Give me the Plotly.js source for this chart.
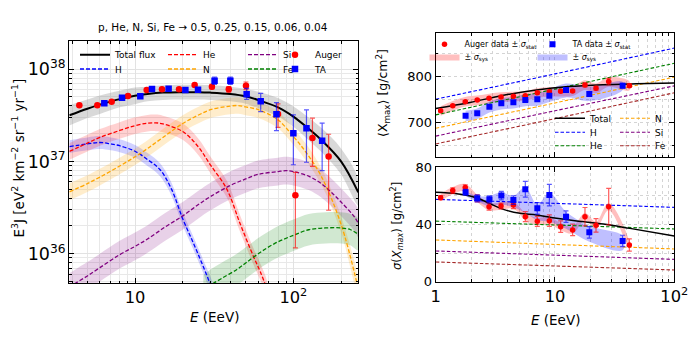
<!DOCTYPE html>
<html>
<head>
<meta charset="utf-8">
<script src="https://cdn.plot.ly/plotly-3.0.1.min.js"></script>
<style>html,body{margin:0;padding:0;background:#fff}#chart{width:693px;height:342px}</style>
</head>
<body>
<div id="chart"></div>
<script>
// ---- left panel: E^3 J, values in units of 1e36 eV^2 km^-2 sr^-1 yr^-1 ----
var totE  = [3.85, 5, 6, 8, 10, 12, 15, 20, 25, 30, 40, 50, 60, 80, 100, 120, 150, 200, 257];
var totF  = [31.6, 37.2, 41.2, 47.3, 51.3, 53.7, 55.6, 56.2, 56.2, 55.6, 53.7, 50.7, 46.2, 38.5, 30.6, 23.9, 17.1, 10.0, 4.62];
var totHi = [40.7, 46.8, 51.9, 58.2, 63.1, 64.5, 66.8, 67.6, 67.6, 66.8, 64.5, 60.9, 56.8, 48.5, 39.4, 31.5, 23.1, 13.8, 6.38];
var totLo = [24.5, 29.5, 32.7, 38.5, 41.7, 44.7, 46.3, 46.8, 46.8, 46.3, 44.7, 42.2, 37.6, 30.6, 23.7, 18.1, 12.7, 7.24, 3.34];

var hE  = [3.85, 5, 6, 7, 8, 10, 12, 14.4, 17, 20, 23.3, 27, 31];
var hF  = [14.45, 15.49, 16.03, 15.49, 14.79, 12.88, 10.47, 8.13, 5.01, 2.40, 1.32, 0.724, 0.398];
var hHi = [17.0, 18.2, 18.8, 18.2, 17.4, 15.1, 12.3, 9.55, 5.89, 2.82, 1.55, 0.851, 0.468];
var hLo = [12.3, 13.2, 13.6, 13.2, 12.6, 11.0, 8.91, 6.92, 4.26, 2.04, 1.12, 0.616, 0.339];

var heE  = [3.85, 5, 6, 8, 10, 12, 13.5, 15, 20, 25, 30, 38, 46, 56, 62, 68];
var heF  = [12.82, 15.78, 18.20, 21.63, 24.43, 25.94, 26.18, 25.47, 21.09, 14.52, 9.12, 5.01, 2.14, 0.933, 0.631, 0.417];
var heHi = [15.77, 19.41, 22.39, 26.60, 30.05, 31.91, 32.20, 31.33, 25.94, 17.86, 11.22, 6.16, 2.63, 1.15, 0.776, 0.513];
var heLo = [10.42, 12.83, 14.80, 17.59, 19.86, 21.09, 21.28, 20.71, 17.15, 11.80, 7.41, 4.07, 1.74, 0.759, 0.513, 0.339];

var nE  = [3.85, 5, 6, 8, 10, 12, 15, 20, 25, 30, 40, 45, 50, 60, 80, 100, 120, 150, 200, 257];
var nF  = [4.68, 5.75, 6.76, 8.91, 11.22, 13.80, 18.20, 25.70, 31.62, 36.31, 39.81, 40.27, 38.90, 36.31, 28.18, 18.62, 12.59, 6.92, 2.09, 0.417];
var nHi = [5.76, 7.07, 8.31, 10.96, 13.80, 16.97, 22.39, 31.61, 38.89, 44.66, 48.97, 49.53, 47.85, 44.66, 34.66, 22.90, 15.49, 8.51, 2.57, 0.513];
var nLo = [3.80, 4.67, 5.50, 7.24, 9.12, 11.22, 14.80, 20.89, 25.71, 29.52, 32.37, 32.74, 31.63, 29.52, 22.91, 15.14, 10.24, 5.63, 1.70, 0.339];

var siE  = [3.85, 4.2, 5, 6, 8, 10, 12, 15.5, 20, 25, 30, 40, 50, 60, 80, 90, 100, 125, 150, 175, 200, 243, 257];
var siF  = [0.437, 0.479, 0.575, 0.708, 0.977, 1.202, 1.445, 1.950, 2.570, 3.388, 4.169, 5.495, 6.457, 7.244, 7.762, 7.943, 7.762, 6.918, 5.754, 4.571, 3.631, 2.512, 2.138];
var siHi = [0.617, 0.677, 0.812, 1.000, 1.380, 1.698, 2.042, 2.755, 3.631, 4.787, 5.891, 7.764, 9.124, 10.24, 10.97, 11.22, 10.97, 9.775, 8.130, 6.459, 5.131, 3.549, 3.021];
var siLo = [0.309, 0.339, 0.407, 0.501, 0.692, 0.851, 1.023, 1.381, 1.820, 2.399, 2.952, 3.890, 4.572, 5.129, 5.495, 5.624, 5.495, 4.898, 4.074, 3.236, 2.571, 1.778, 1.514];

var feE  = [27, 30, 35, 44, 50, 60, 76, 100, 125, 160, 200, 230, 257];
var feF  = [0.398, 0.457, 0.537, 0.676, 0.794, 1.000, 1.288, 1.585, 1.820, 1.905, 1.905, 1.820, 1.622];
var feHi = [0.589, 0.676, 0.794, 1.000, 1.174, 1.479, 1.905, 2.344, 2.692, 2.817, 2.817, 2.692, 2.399];
var feLo = [0.269, 0.309, 0.363, 0.457, 0.537, 0.676, 0.871, 1.071, 1.230, 1.288, 1.288, 1.230, 1.096];

var augE   = [4.45, 5.78, 7.12, 9.03, 11.85, 14.8, 18.97, 23.8, 30.6, 39.1, 50.2, 80, 103, 132, 167];
var augF   = [40.5, 40.5, 44.4, 51.2, 59.3, 60.3, 60.3, 67.2, 64.5, 60.3, 66.0, 32.7, 4.3, 17.9, 11.3];
var augUp  = [1, 1, 1, 1, 1, 1, 1.5, 2, 4, 4.5, 6.5, 9.2, 3.3, 11.5, 8.4];
var augDn  = [1, 1, 1, 1, 1, 1, 1.5, 2, 3.5, 4, 6, 9.3, 3.14, 9.07, 8.34];

var taE   = [6.4, 8.28, 10.8, 12.8, 16.3, 20.8, 25, 31.8, 40, 50.7, 62.2, 78.2, 100, 121, 152];
var taF   = [42.6, 48.9, 50.7, 60.8, 61.3, 59.3, 59.8, 74.8, 74.8, 53.3, 44.7, 32.5, 20.2, 22.9, 16.7];
var taUp  = [1, 1, 1, 1, 1, 1.5, 2, 7, 7, 8.4, 9.9, 10.9, 11.7, 13.2, 9.3];
var taDn  = [1, 1, 1, 1, 1, 1.5, 2, 6.5, 6.5, 6.2, 10, 10.9, 11, 13.1, 8.76];

// ---- right panels: <Xmax> and sigma(Xmax) ----
var modE = [1, 10, 100];
var xmH  = [751, 806, 862];
var xmHe = [717, 773, 829];
var xmN  = [688, 743, 799];
var xmSi = [671, 726, 780];
var xmFe = [654, 709, 765];
var xmTotE = [1, 1.94, 3.6, 7, 13, 25, 48, 100];
var xmTot  = [731, 744, 759, 771, 778.5, 782.5, 784.5, 786];

var sgH  = [57.6, 54.8, 52.0];
var sgHe = [42.4, 39.65, 36.9];
var sgN  = [29.2, 26.05, 22.9];
var sgSi = [21.5, 18.55, 15.6];
var sgFe = [13.8, 11.0, 8.2];
var sgTotE = [1, 1.5, 1.94, 2.4, 2.82, 3.69, 5.09, 7.02, 10.3, 15.2, 25.4, 42.5, 100];
var sgTot  = [62.5, 61.5, 59.9, 57.5, 54.8, 50.6, 47.8, 46.6, 44.3, 42.4, 40.3, 37.3, 32.0];

var augXE    = [1.10, 1.39, 1.77, 2.23, 2.80, 3.53, 4.48, 5.64, 7.11, 8.97, 11.16, 14.06, 17.84, 22.07, 28.2, 42];
var augXm    = [726, 737, 745.7, 749.3, 753, 755.9, 757.3, 758.8, 765.3, 767.5, 768.2, 768.9, 782, 774.7, 789.2, 780.5];
var augXmErr = [2, 2, 2, 2, 2, 2, 2, 2, 2.5, 2.5, 3, 3, 4, 4, 7, 4];
var augXmHi  = [736, 747, 756, 759, 763, 766, 767, 769, 775, 777, 778, 779, 792, 785, 799, 790];
var augXmLo  = [715, 726, 735, 738, 742, 745, 746, 748, 754, 757, 757, 758, 771, 764, 778, 770];
var augSg    = [58.8, 63.7, 65.8, 58.3, 52.5, 52.9, 53.6, 45.5, 42.2, 42.7, 38.5, 36.2, 45.5, 39.4, 52.5, 25.7];
var augSgErr = [1.5, 2, 2, 2.5, 2.5, 2, 2.5, 3.5, 3.5, 4, 4, 4, 6.4, 4.7, 12.8, 4.3];
var augSgHi  = [61.3, 66.2, 68.3, 60.8, 55, 55.4, 56.1, 48, 44.7, 45.2, 41, 38.7, 48, 41.9, 55, 28.2];
var augSgLo  = [56.3, 61.2, 63.3, 55.8, 50, 50.4, 51.1, 43, 39.7, 40.2, 36, 33.7, 43, 36.9, 50, 23.2];

var taXE    = [1.78, 2.23, 2.82, 3.55, 4.48, 5.64, 7.11, 8.97, 12.37, 19.4, 36.9];
var taXm    = [715.3, 720.4, 734.9, 742.1, 744.3, 749.3, 750.8, 758.8, 771.1, 762.4, 780.5];
var taXmErr = [2.5, 2.5, 2.5, 2.5, 2.5, 3, 3, 3, 3, 4, 5];
var taXmHi  = [726, 731, 746, 753, 756, 762, 764, 772, 785, 778, 789];
var taXmLo  = [703, 708, 722, 729, 731, 736, 737, 745, 755, 747, 771];
var taSg    = [62.5, 58.3, 57.6, 60.2, 57.1, 64.6, 51.3, 60.6, 45.5, 34.5, 28.5];
var taSgErr = [2, 2.5, 2.5, 3, 3, 5.5, 4, 7.5, 4, 4, 4];
var taSgHi  = [63.5, 60, 60, 62.5, 60, 66, 54, 62, 49, 39, 32];
var taSgLo  = [60, 56, 53, 54, 52, 48, 43, 42, 37, 28, 22];

var W = 693, H = 342;
var FONT = 'DejaVu Sans';

function u36(a){ return a.map(function(v){ return v*1e36; }); }
function rev(a){ return a.slice().reverse(); }

function band(x, hi, lo, fill, xa, ya, name, leg){
  return {x: x.concat(rev(x)), y: hi.concat(rev(lo)), xaxis: xa, yaxis: ya,
    type: 'scatter', mode: 'lines', fill: 'toself', fillcolor: fill,
    line: {width: 0, shape: 'spline', smoothing: 1}, hoverinfo: 'skip', name: name || '',
    showlegend: !!leg, legend: leg || 'legend'};
}
function dline(x, y, color, xa, ya, name, leg, dash, w){
  return {x: x, y: y, xaxis: xa, yaxis: ya, type: 'scatter', mode: 'lines',
    line: {color: color, width: w || 1.3, dash: dash || '4px,2px', shape: 'spline', smoothing: 1},
    name: name, showlegend: !!leg, legend: leg || 'legend'};
}
function pts(x, y, up, dn, color, barColor, symbol, size, xa, ya, name, leg){
  return {x: x, y: y, xaxis: xa, yaxis: ya, type: 'scatter', mode: 'markers',
    marker: {color: color, symbol: symbol, size: size},
    error_y: {type: 'data', symmetric: false, array: up, arrayminus: dn,
      color: barColor, thickness: 1.2, width: 2.5},
    name: name, showlegend: !!leg, legend: leg || 'legend'};
}

var data = [];
// left bands
data.push(band(hE, u36(hHi), u36(hLo), 'rgba(0,0,255,0.18)', 'x', 'y'));
data.push(band(heE, u36(heHi), u36(heLo), 'rgba(255,0,0,0.18)', 'x', 'y'));
data.push(band(nE, u36(nHi), u36(nLo), 'rgba(255,165,0,0.2)', 'x', 'y'));
data.push(band(siE, u36(siHi), u36(siLo), 'rgba(128,0,128,0.18)', 'x', 'y'));
data.push(band(feE, u36(feHi), u36(feLo), 'rgba(0,128,0,0.18)', 'x', 'y'));
data.push(band(totE, u36(totHi), u36(totLo), 'rgba(128,128,128,0.3)', 'x', 'y'));
// left curves
data.push(dline(hE, u36(hF), 'blue', 'x', 'y', 'H', 'legend2'));
data.push(dline(heE, u36(heF), 'red', 'x', 'y', 'He', 'legend3'));
data.push(dline(nE, u36(nF), 'orange', 'x', 'y', 'N', 'legend4'));
data.push(dline(siE, u36(siF), 'purple', 'x', 'y', 'Si', 'legend5'));
data.push(dline(feE, u36(feF), 'green', 'x', 'y', 'Fe', 'legend6'));
data.push(dline(totE, u36(totF), 'black', 'x', 'y', 'Total flux', 'legend', 'solid', 2));
// left data
data.push(pts(augE, u36(augF), u36(augUp), u36(augDn), 'red', 'rgba(255,0,0,0.65)', 'circle', 6.5, 'x', 'y', 'Auger', 'legend7'));
data.push(pts(taE, u36(taF), u36(taUp), u36(taDn), 'blue', 'rgba(0,0,255,0.65)', 'square', 6.5, 'x', 'y', 'TA', 'legend8'));

// right top
data.push(band(augXE, augXmHi, augXmLo, 'rgba(255,0,0,0.25)', 'x2', 'y2', '± <i>σ</i><sub>sys</sub>', 'legend10'));
data.push(band(taXE, taXmHi, taXmLo, 'rgba(0,0,255,0.25)', 'x2', 'y2', '± <i>σ</i><sub>sys</sub>', 'legend12'));
data.push(dline(modE, xmH, 'blue', 'x2', 'y2', 'H', 'legend14', '3.5px,2px', 1.1));
data.push(dline(modE, xmHe, 'green', 'x2', 'y2', 'He', 'legend15', '3.5px,2px', 1.1));
data.push(dline(modE, xmN, 'orange', 'x2', 'y2', 'N', 'legend16', '3.5px,2px', 1.1));
data.push(dline(modE, xmSi, 'purple', 'x2', 'y2', 'Si', 'legend17', '3.5px,2px', 1.1));
data.push(dline(modE, xmFe, 'brown', 'x2', 'y2', 'Fe', 'legend18', '3.5px,2px', 1.1));
data.push(dline(xmTotE, xmTot, 'black', 'x2', 'y2', 'Total', 'legend13', 'solid', 1.5));
data.push(pts(augXE, augXm, augXmErr, augXmErr, 'red', 'rgba(255,0,0,0.65)', 'circle', 5.5, 'x2', 'y2', 'Auger data ± <i>σ</i><sub>stat</sub>', 'legend9'));
data.push(pts(taXE, taXm, taXmErr, taXmErr, 'blue', 'rgba(0,0,255,0.65)', 'square', 6, 'x2', 'y2', 'TA data ± <i>σ</i><sub>stat</sub>', 'legend11'));

// right bottom
data.push(band(augXE, augSgHi, augSgLo, 'rgba(255,0,0,0.25)', 'x3', 'y3'));
data.push(band(taXE, taSgHi, taSgLo, 'rgba(0,0,255,0.25)', 'x3', 'y3'));
data.push(dline(modE, sgH, 'blue', 'x3', 'y3', 'H', null, '3.5px,2px', 1.1));
data.push(dline(modE, sgHe, 'green', 'x3', 'y3', 'He', null, '3.5px,2px', 1.1));
data.push(dline(modE, sgN, 'orange', 'x3', 'y3', 'N', null, '3.5px,2px', 1.1));
data.push(dline(modE, sgSi, 'purple', 'x3', 'y3', 'Si', null, '3.5px,2px', 1.1));
data.push(dline(modE, sgFe, 'brown', 'x3', 'y3', 'Fe', null, '3.5px,2px', 1.1));
data.push(dline(sgTotE, sgTot, 'black', 'x3', 'y3', 'Total', null, 'solid', 1.5));
data.push(pts(augXE, augSg, augSgErr, augSgErr, 'red', 'rgba(255,0,0,0.65)', 'circle', 5.5, 'x3', 'y3', 'Auger', null));
data.push(pts(taXE, taSg, taSgErr, taSgErr, 'blue', 'rgba(0,0,255,0.65)', 'square', 6, 'x3', 'y3', 'TA', null));

function axis(extra){
  var a = {showline: true, linecolor: '#000', linewidth: 1, mirror: 'allticks',
    ticks: 'inside', ticklen: 5, tickwidth: 1, tickcolor: '#000', zeroline: false,
    showgrid: true, gridcolor: '#e2e2e2', tickfont: {family: FONT, size: 13, color: '#000'}};
  for (var k in extra) a[k] = extra[k];
  return a;
}
var minorLog = {ticks: 'inside', ticklen: 2.5, tickcolor: '#000', dtick: 'D1', showgrid: true, gridcolor: '#e8e8e8'};
var minorLogDot = {ticks: 'inside', ticklen: 2.5, tickcolor: '#000', dtick: 'D1', showgrid: true, gridcolor: '#d4d4d4', griddash: 'dot'};

// one legend box per entry so the entries sit where the reference has them
var legendSpots = {
  legend: [115, 54.7, 9], legend2: [115, 69, 9],
  legend3: [203, 54.7, 9], legend4: [203, 69, 9],
  legend5: [283, 54.7, 9], legend6: [283, 69, 9],
  legend7: [315, 54.7, 9], legend8: [315, 69, 9],
  legend9: [464.5, 44.3, 8], legend10: [464.5, 56.5, 8],
  legend11: [572.5, 44.3, 8], legend12: [572.5, 56.5, 8],
  legend13: [590, 118.3, 9], legend14: [590, 132.3, 9], legend15: [590, 145.7, 9],
  legend16: [655, 118.3, 9], legend17: [655, 132.3, 9], legend18: [655, 145.7, 9]
};

function note(text, px, py, size, angle){
  return {text: text, x: px/W, y: 1 - py/H, xref: 'paper', yref: 'paper',
    xanchor: 'center', yanchor: 'middle', textangle: angle || 0, showarrow: false,
    font: {family: FONT, size: size, color: '#000'}};
}

var layout = {
  width: W, height: H, margin: {l: 0, r: 0, t: 0, b: 0},
  paper_bgcolor: '#fff', plot_bgcolor: '#fff', font: {family: FONT, color: '#000'},
  xaxis: axis({domain: [0.1, 0.517], type: 'log', range: [0.585, 2.41], dtick: 1, exponentformat: 'power', anchor: 'y', minor: minorLog}),
  yaxis: axis({domain: [0.1716, 0.879], type: 'log', range: [35.68, 38.30], dtick: 1, exponentformat: 'power', anchor: 'x', minor: minorLog, tickfont: {family: FONT, size: 14, color: '#000'}}),
  xaxis2: axis({domain: [0.6287, 0.973], type: 'log', range: [0, 2], dtick: 1, showticklabels: false, anchor: 'y2', gridcolor: '#d4d4d4', griddash: 'dot', minor: minorLogDot}),
  yaxis2: axis({domain: [0.54, 0.9026], range: [625, 894], dtick: 100, tick0: 0, anchor: 'x2', gridcolor: '#d4d4d4', griddash: 'dot',
    minor: {ticks: 'inside', ticklen: 2.5, tickcolor: '#000', dtick: 50, showgrid: true, gridcolor: '#d4d4d4', griddash: 'dot'}}),
  xaxis3: axis({domain: [0.6287, 0.973], type: 'log', range: [0, 2], dtick: 1, exponentformat: 'power', anchor: 'y3', gridcolor: '#d4d4d4', griddash: 'dot', minor: minorLogDot}),
  yaxis3: axis({domain: [0.1763, 0.5108], range: [0, 80], dtick: 40, tick0: 0, anchor: 'x3', gridcolor: '#d4d4d4', griddash: 'dot',
    minor: {ticks: 'inside', ticklen: 2.5, tickcolor: '#000', dtick: 20, showgrid: true, gridcolor: '#d4d4d4', griddash: 'dot'}}),
  annotations: [
    note('p, He, N, Si, Fe → 0.5, 0.25, 0.15, 0.06, 0.04', 213, 27, 10.5),
    note('E<sup>3</sup>J [eV<sup>2</sup> km<sup>−2</sup> sr<sup>−1</sup> yr<sup>−1</sup>]', 18, 158.5, 13.5, -90),
    note('<i>E</i> (EeV)', 214, 317, 13.5),
    note('<i>E</i> (EeV)', 555, 320, 13.5),
    note('⟨X<sub>max</sub>⟩ [g/cm<sup>2</sup>]', 383, 93, 12.5, -90),
    note('<i>σ</i>(<i>X<sub>max</sub></i>) [g/cm<sup>2</sup>]', 397, 226, 11.5, -90)
  ]
};
for (var key in legendSpots) {
  var s = legendSpots[key];
  layout[key] = {x: (s[0]-40)/W, y: 1 - s[1]/H, xanchor: 'left', yanchor: 'middle',
    bgcolor: 'rgba(0,0,0,0)', borderwidth: 0, itemwidth: 30,
    font: {family: FONT, size: s[2], color: '#000'}};
}

Plotly.newPlot('chart', data, layout, {staticPlot: true});
</script>
</body>
</html>
